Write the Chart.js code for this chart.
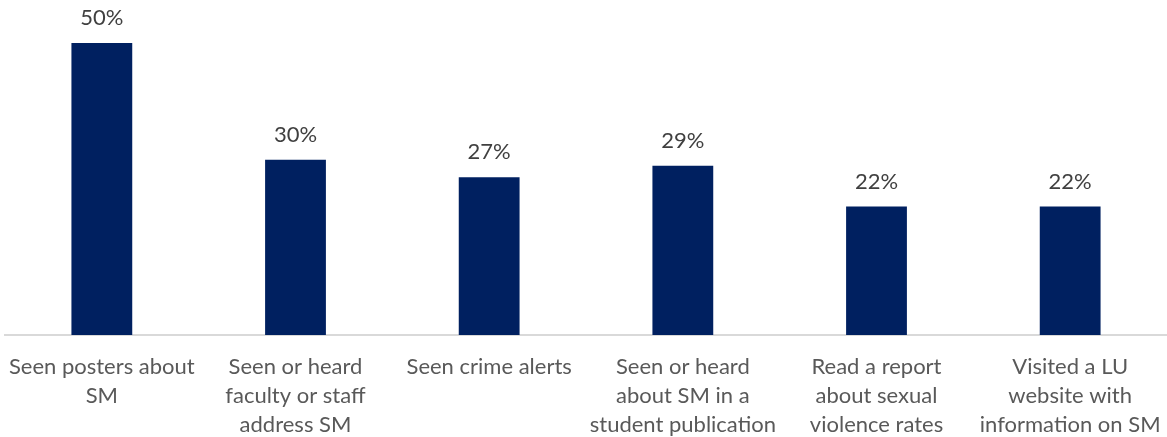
<!DOCTYPE html>
<html>
<head>
<meta charset="utf-8">
<style>
  html, body { margin: 0; padding: 0; background: #ffffff; }
  canvas { display: block; }
</style>
<script src="https://cdn.jsdelivr.net/npm/chart.js@4/dist/chart.umd.min.js"></script>
</head>
<body>
<canvas id="chart" width="1167" height="437"></canvas>
<script>
// Awareness activities, share of respondents (%)
const categories = [
  ["Seen posters about", "SM"],
  ["Seen or heard", "faculty or staff", "address SM"],
  ["Seen crime alerts"],
  ["Seen or heard", "about SM in a", "student publication"],
  ["Read a report", "about sexual", "violence rates"],
  ["Visited a LU", "website with", "information on SM"]
];
const shares = [50, 30, 27, 29, 22, 22];
const valueLabels = ["50%", "30%", "27%", "29%", "22%", "22%"];

const FONT = "Lato, Carlito, 'Liberation Sans', sans-serif";

// Writes the percentage above each bar
const barValueLabels = {
  id: "barValueLabels",
  afterDatasetsDraw(chart) {
    const ctx = chart.ctx;
    const meta = chart.getDatasetMeta(0);
    ctx.save();
    ctx.font = "22px " + FONT;
    ctx.fillStyle = "#404040";
    ctx.textAlign = "center";
    ctx.textBaseline = "middle";
    meta.data.forEach((bar, i) => {
      ctx.fillText(valueLabels[i], bar.x, bar.y - 25);
    });
    ctx.restore();
  }
};

new Chart(document.getElementById("chart"), {
  type: "bar",
  data: {
    labels: categories,
    datasets: [{
      data: shares,
      backgroundColor: "#002060",
      borderWidth: 0,
      barPercentage: 1,
      categoryPercentage: 0.314
    }]
  },
  options: {
    responsive: false,
    animation: false,
    events: [],
    layout: { padding: { top: 43, left: 5, right: 0, bottom: 0 } },
    plugins: {
      legend: { display: false },
      tooltip: { enabled: false }
    },
    scales: {
      y: {
        display: false,
        min: 0,
        max: 50
      },
      x: {
        grid: { display: false, drawTicks: false },
        border: { display: true, color: "#d9d9d9", width: 2 },
        ticks: {
          autoSkip: false,
          maxRotation: 0,
          minRotation: 0,
          padding: 17,
          color: "#595959",
          font: { family: FONT, size: 22, lineHeight: 1.32 }
        },
        afterFit(scale) {
          // fixed band for the three-line category captions, no side insets
          scale.height = 102;
          scale.paddingLeft = 0;
          scale.paddingRight = 0;
        }
      }
    }
  },
  plugins: [barValueLabels]
});
</script>
</body>
</html>
